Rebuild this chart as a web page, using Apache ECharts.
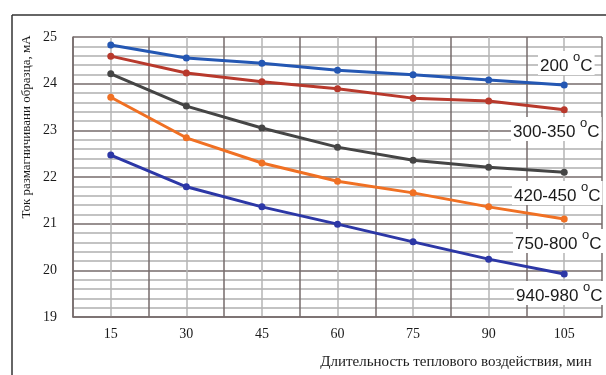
<!DOCTYPE html>
<html>
<head>
<meta charset="utf-8">
<script src="https://cdn.jsdelivr.net/npm/echarts@6/dist/echarts.min.js"></script>
<style>
  html, body { margin: 0; padding: 0; background: #fff; }
  #chart { width: 606px; height: 375px; }
</style>
</head>
<body>
<div id="chart"></div>
<script>
// Exposure time, minutes
const durations = [15, 30, 45, 60, 75, 90, 105];

// Demagnetizing current, mA, per treatment temperature
const t200     = [24.83, 24.55, 24.44, 24.29, 24.19, 24.08, 23.97];
const t300_350 = [24.59, 24.23, 24.04, 23.89, 23.69, 23.63, 23.44];
const t420_450 = [24.21, 23.52, 23.05, 22.64, 22.36, 22.21, 22.10];
const t750_800 = [23.71, 22.84, 22.30, 21.91, 21.66, 21.36, 21.10];
const t940_980 = [22.47, 21.79, 21.36, 20.99, 20.61, 20.24, 19.92];

const seriesNames  = ['200', '300-350', '420-450', '750-800', '940-980'];
const seriesValues = [t200, t300_350, t420_450, t750_800, t940_980];
const seriesColors = ['#2457b3', '#b8392c', '#454545', '#f07023', '#2c37a6'];

// Label placement near the right end of each line
const labelPos = [
  { x: 538, y: 63 },
  { x: 511, y: 129 },
  { x: 512, y: 193 },
  { x: 513, y: 241 },
  { x: 514, y: 293 }
];

const serif = 'Liberation Serif, Times New Roman, serif';
const sans = 'Liberation Sans, Arial, sans-serif';

const chart = echarts.init(document.getElementById('chart'), null, { renderer: 'canvas' });

const series = seriesValues.map((vals, i) => ({
  name: seriesNames[i],
  type: 'line',
  data: vals.map((v, k) => [durations[k], v]),
  symbol: 'circle',
  symbolSize: 7,
  lineStyle: { width: 3, color: seriesColors[i] },
  itemStyle: { color: seriesColors[i] },
  z: 3
}));

const labelGraphics = seriesNames.map((n, i) => ({
  type: 'text',
  left: labelPos[i].x,
  top: labelPos[i].y - 12,
  z: 10,
  style: {
    text: '{t|' + n + ' }{o|o}{t|C}',
    rich: {
      t: { fontFamily: sans, fontSize: 17, fill: '#1a1a1a', lineHeight: 24, verticalAlign: 'bottom' },
      o: { fontFamily: sans, fontSize: 13, fill: '#1a1a1a', lineHeight: 24, verticalAlign: 'top', padding: [0, 0, 9, 0] }
    },
    backgroundColor: '#fff',
    padding: [0, 2, 0, 2]
  }
}));

chart.setOption({
  animation: false,
  backgroundColor: '#fff',
  grid: { left: 73, right: 4, top: 37, bottom: 58, containLabel: false },
  xAxis: {
    type: 'value',
    min: 7.5,
    max: 112.5,
    interval: 7.5,
    axisLine: { show: true, lineStyle: { color: '#766b6b', width: 1.5 } },
    axisTick: { show: false },
    axisLabel: {
      margin: 10,
      fontFamily: serif,
      fontSize: 14,
      color: '#1a1a1a',
      formatter: v => (v % 15 === 0 ? String(v) : '')
    },
    splitLine: {
      show: true,
      lineStyle: { color: ['#766b6b', '#b5b5b5'], width: 1.5 }
    }
  },
  yAxis: {
    type: 'value',
    min: 19,
    max: 25,
    interval: 1,
    axisLine: { show: true, lineStyle: { color: '#766b6b', width: 1.5 } },
    axisTick: { show: false },
    axisLabel: {
      margin: 16,
      fontFamily: serif,
      fontSize: 14,
      color: '#1a1a1a'
    },
    splitLine: { show: true, lineStyle: { color: '#766b6b', width: 1.5 } },
    minorTick: { show: false, splitNumber: 5 },
    minorSplitLine: { show: true, lineStyle: { color: '#b0b0b0', width: 1.5 } }
  },
  graphic: [
    // outer frame (top and left edges)
    { type: 'line', shape: { x1: 12, y1: 15, x2: 606, y2: 15 }, style: { stroke: '#333', lineWidth: 1.5 }, z: 1 },
    { type: 'line', shape: { x1: 12, y1: 15, x2: 12, y2: 375 }, style: { stroke: '#333', lineWidth: 1.5 }, z: 1 },
    {
      type: 'text',
      x: 27, y: 127,
      rotation: Math.PI / 2,
      style: {
        text: 'Ток размагничивани образца, мА',
        fontFamily: serif,
        fontSize: 13,
        fill: '#1a1a1a',
        align: 'center',
        verticalAlign: 'middle'
      }
    },
    {
      type: 'text',
      x: 456, y: 362,
      style: {
        text: 'Длительность теплового воздействия, мин',
        fontFamily: serif,
        fontSize: 15,
        fill: '#1a1a1a',
        align: 'center',
        verticalAlign: 'middle'
      }
    }
  ].concat(labelGraphics),
  series: series
});
</script>
</body>
</html>
